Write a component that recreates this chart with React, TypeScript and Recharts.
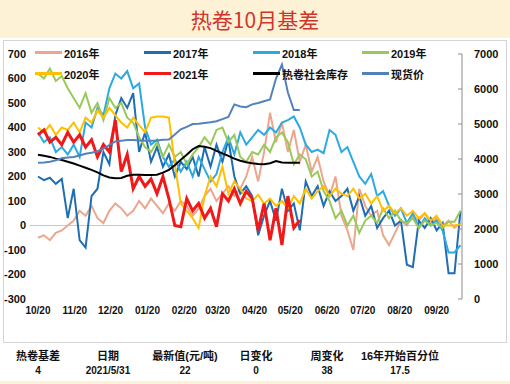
import { ComposedChart, Line, XAxis, YAxis, ReferenceLine, Legend } from 'recharts';

// x axis: days since 10/20, one sample every 5 days
const stepDays = 5;
const monthDays = [0, 31, 61, 92, 123, 151, 182, 212, 243, 273, 304, 335];
const monthLabels = ['10/20', '11/20', '12/20', '01/20', '02/20', '03/20', '04/20', '05/20', '06/20', '07/20', '08/20', '09/20'];

const basis2016 = [
  -50, -40, -60, -30, -20, 0, 20, 60, 40, 80, 30, 10, 60, 90, 70, 40, 60, 100, 70, 110,
  80, 50, 90, 60, 100, 80, 40, 70, 120, 150, 100, 130, 160, 120, 150, 200, 280, 180, 300, 460,
  340, 420, 300, 390, 260, 330, 220, 280, 180, 120, 200, 40, -20, -100, 150, 80, 40, 60, -40, -80,
  -30, 20, 0, 40, 20, 50, 10, 30, 0, 20, -10, 10,
];
const basis2017 = [
  200, 185, 195, 170, 190, 30, 150, -60, -90, 120, 150, 300, 250, 450, 520, 480, 540, 300, 380, 260,
  320, 240, 290, 200, 260, 230, 280, 200, 320, 240, 330, 260, 350, 200, 130, 160, 120, -40, 40, 100,
  20, 150, 60, 90, -20, 180, 120, 160, 80, 140, 100, 120, 150, 60, 120, 40, 80, -10, 30, 60,
  0, 20, -160, -170, 20, -10, 30, -20, 10, -195, -195, 60,
];
const basis2018 = [
  380, 340, 360, 300, 320, 290, 330, 280, 420, 400, 480, 450, 560, 620, 600, 630, 560, 580, 400, 330,
  350, 280, 240, 270, 220, 260, 200, 280, 230, 180, 210, 300, 360, 290, 380, 330, 360, 390, 370, 400,
  380, 420, 430, 445, 400, 330, 300, 310, 295, 390, 370, 300, 320, 260, 200, 170, 210, 120, 140, 80,
  40, 70, 10, 50, -10, 30, 0, 20, -20, -110, -110, -80,
];
const basis2019 = [
  620, 600, 640, 590, 610, 560, 520, 480, 540, 460, 500, 430, 520, 480, 500, 440, 420, 360, 320, 300,
  340, 280, 330, 280, 300, 250, 290, 320, 360, 330, 390, 400, 340, 370, 280, 260, 300, 290, 330, 300,
  360, 380, 340, 250, 290, 270, 200, 220, 140, 100, 30, 60, 0, 40, -30, 20, 40, 10, 70, 30,
  60, 20, 10, 30, -10, 20, 0, 10, -10, 15, 15, 60,
];
const basis2020 = [
  400, 380, 410, 370, 400, 390, 420, 380, 440, 420, 470, 440, 480, 450, 420, 400, 440, 410, 380, 440,
  445, 445, 440, 250, 90, 60, 30, -10, 120, 200, 160, 240, 130, 180, 150, 110, 100, 125, 90, 110,
  80, 100, 70, 120, 90, 150, 110, 140, 160, 120, 150, 130, 120, 150, 110, 130, 90, 120, 60, 80,
  50, 70, 40, 60, 30, 50, 20, 40, 0, 0, 0, 5,
];
const basis2021 = [
  370, 390, 340, 360, 330, 380, 340, 370, 320, 350, 280, 330, 300, 430, 220, 290, 150, 200, 160, 190,
  130, 200, 110, 0, -5, 110, 60, 90, 30, 70, -5, 130, 100, 150, 90, 140, 110, -20, 90, -60,
  70, -80, 120, -10, 22,
];
const inventory = [
  4120, 4090, 4060, 4010, 3970, 3920, 3870, 3810, 3750, 3690, 3620, 3530, 3470, 3450, 3460, 3520, 3550, 3550, 3540, 3540,
  3550, 3610, 3690, 3820, 3980, 4120, 4280, 4370, 4350, 4310, 4230, 4160, 4090, 4010, 3950, 3910, 3880, 3860, 3850, 3880,
  3940, 3900, 3890, 3890, 3890,
];
const spotPrice = [
  3890, 3900, 3920, 3960, 4020, 4040, 4060, 4100, 4150, 4180, 4220, 4300, 4400, 4500, 4520, 4540, 4540, 4530, 4520, 4520,
  4530, 4550, 4560, 4700, 4850, 4920, 5000, 5010, 5030, 5050, 5080, 5140, 5200, 5560, 5500, 5480, 5560, 5600, 5650, 5700,
  6300, 6700, 5900, 5400, 5400,
];

const leftTicks = [-300, -200, -100, 0, 100, 200, 300, 400, 500, 600, 700];
const rightTicks = [0, 1000, 2000, 3000, 4000, 5000, 6000, 7000];

const tableHeaders = ['热卷基差', '日期', '最新值(元/吨)', '日变化', '周变化', '16年开始百分位'];
const tableValues = ['4', '2021/5/31', '22', '0', '38', '17.5'];
const tableCenters = [38, 108, 185, 256, 327, 400];

const series = [
  { key: 'y2016', name: '2016年', color: '#EBA78D', width: 2, axis: 'left' },
  { key: 'y2017', name: '2017年', color: '#1F6DB2', width: 2, axis: 'left' },
  { key: 'y2018', name: '2018年', color: '#2DA9E1', width: 2, axis: 'left' },
  { key: 'y2019', name: '2019年', color: '#98C95A', width: 2, axis: 'left' },
  { key: 'y2020', name: '2020年', color: '#FFC000', width: 2, axis: 'left' },
  { key: 'y2021', name: '2021年', color: '#F01818', width: 3, axis: 'left' },
  { key: 'inv', name: '热卷社会库存', color: '#000000', width: 2, axis: 'right' },
  { key: 'spot', name: '现货价', color: '#5282BA', width: 2, axis: 'right' },
];

const data = basis2016.map((v, i) => ({
  d: i * stepDays,
  y2016: v,
  y2017: basis2017[i],
  y2018: basis2018[i],
  y2019: basis2019[i],
  y2020: basis2020[i],
  y2021: basis2021[i],
  inv: inventory[i],
  spot: spotPrice[i],
}));

const FONT = '"Liberation Sans", "Noto Sans CJK SC", sans-serif';
const CJK = '"Noto Sans CJK SC", sans-serif';

function ChartLegend() {
  return (
    <div style={{ display: 'grid', gridTemplateColumns: 'repeat(4, 109px)', gridAutoRows: '21px' }}>
      {series.map((s) => (
        <div key={s.key} style={{ display: 'flex', alignItems: 'center' }}>
          <span style={{ width: 27, height: 2.5, background: s.color, marginRight: 2 }} />
          <span style={{ fontSize: 11, fontWeight: 'bold', color: '#111', fontFamily: FONT, whiteSpace: 'nowrap' }}>
            {s.name}
          </span>
        </div>
      ))}
    </div>
  );
}

function RightTick(props: any) {
  const { x, y, payload } = props;
  return (
    <g>
      <line x1={x - 12} x2={x - 16} y1={y} y2={y} stroke="#8c8c8c" />
      <text x={x} y={y} dy={4} textAnchor="start" fontSize={11} fontWeight="bold" fill="#111" fontFamily={FONT}>
        {payload.value}
      </text>
    </g>
  );
}

export default function App() {
  return (
    <div style={{ position: 'absolute', left: 0, top: 0, width: 510, height: 384, background: '#FDF1D6', overflow: 'hidden' }}>
      <div style={{ position: 'absolute', left: 0, top: 0, width: 510, height: 38, lineHeight: '38px', textAlign: 'center', fontSize: 21, color: '#D0352B', fontFamily: CJK }}>
        热卷10月基差
      </div>
      <div style={{ position: 'absolute', left: 0, top: 38, width: 510, height: 343, background: '#fff' }} />
      <div style={{ position: 'absolute', left: 3, top: 40, width: 502, height: 301, border: '1px solid #D4D4D4' }} />
      <div style={{ position: 'absolute', left: 0, top: 0 }}>
        <ComposedChart width={510} height={330} data={data} margin={{ top: 54, right: 0, bottom: 7, left: 0 }}>
          <XAxis
            dataKey="d"
            type="number"
            domain={[-6.7, 356.3]}
            ticks={monthDays}
            interval={0}
            tickFormatter={(v) => monthLabels[monthDays.indexOf(v)]}
            axisLine={false}
            tickLine={false}
            height={24}
            tick={{ fontSize: 10, fill: '#111', fontWeight: 'bold', fontFamily: FONT }}
          />
          <YAxis
            yAxisId="left"
            domain={[-300, 700]}
            ticks={leftTicks}
            interval={0}
            width={30}
            axisLine={false}
            tickLine={false}
            tickSize={4}
            tickMargin={0}
            tick={{ fontSize: 11, fill: '#111', fontWeight: 'bold', fontFamily: FONT }}
          />
          <YAxis
            yAxisId="right"
            orientation="right"
            domain={[0, 7000]}
            ticks={rightTicks}
            interval={0}
            width={48}
            axisLine={{ stroke: '#8c8c8c' }}
            tickLine={false}
            tickSize={6}
            tickMargin={6}
            tick={<RightTick />}
          />
          <ReferenceLine yAxisId="left" y={0} stroke="#C9C9C9" />
          <Legend
            layout="vertical"
            verticalAlign="middle"
            align="center"
            content={<ChartLegend />}
            wrapperStyle={{ top: 42, left: 35, width: 440 }}
          />
          {series.map((s) => (
            <Line
              key={s.key}
              yAxisId={s.axis}
              dataKey={s.key}
              name={s.name}
              type="linear"
              stroke={s.color}
              strokeWidth={s.width}
              dot={false}
              isAnimationActive={false}
            />
          ))}
        </ComposedChart>
      </div>
      {tableHeaders.map((h, i) => (
        <div key={h} style={{ position: 'absolute', top: 347, left: tableCenters[i] - 50, width: 100, textAlign: 'center', fontSize: 11, fontWeight: 'bold', color: '#111', fontFamily: FONT }}>
          {h}
        </div>
      ))}
      {tableValues.map((v, i) => (
        <div key={i} style={{ position: 'absolute', top: 365, left: tableCenters[i] - 50, width: 100, textAlign: 'center', fontSize: 10, fontWeight: 'bold', color: '#111', fontFamily: FONT }}>
          {v}
        </div>
      ))}
    </div>
  );
}
